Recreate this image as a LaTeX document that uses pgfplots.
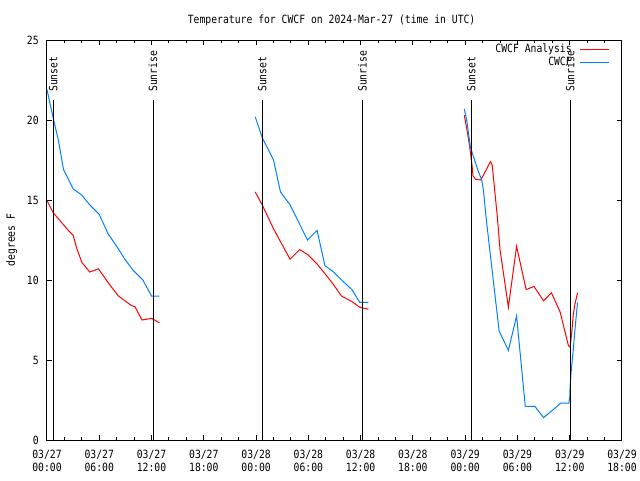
\documentclass[border=0pt]{standalone}
\usepackage{fontspec}
\setmainfont[FakeStretch=0.86]{DejaVu Sans Mono}
\usepackage{pgfplots}
\pgfplotsset{compat=1.18}
\definecolor{cred}{RGB}{255,0,0}
\definecolor{cblue}{RGB}{0,128,255}
\begin{document}
\fontsize{8.5}{9.75}\selectfont
\begin{tikzpicture}
\path[use as bounding box] (-35.25pt,-30pt) rectangle (444.75pt,330pt);
\begin{axis}[
  at={(0,0)}, anchor=south west,
  scale only axis, width=431.25pt, height=300pt,
  xmin=0, xmax=66, ymin=0, ymax=25,
  axis line style={line width=0.75pt},
  every tick/.style={black, line width=0.75pt},
  major tick length=3.75pt, minor tick length=2.25pt,
  tick align=inside,
  xtick={0,6,...,66}, minor x tick num=2,
  xticklabels={{03/27\\00:00},{03/27\\06:00},{03/27\\12:00},{03/27\\18:00},{03/28\\00:00},{03/28\\06:00},{03/28\\12:00},{03/28\\18:00},{03/29\\00:00},{03/29\\06:00},{03/29\\12:00},{03/29\\18:00}},
  xticklabel style={align=center, inner sep=0pt, yshift=-7.5pt, font=\fontsize{8.5}{9.75}\selectfont},
  ytick={0,5,...,25},
  yticklabel style={inner sep=0pt, xshift=-6pt},
  /pgf/number format/assume math mode=true,
  ylabel={degrees F},
  ylabel style={at={(axis description cs:-0.0614,0.5)}, anchor=center},
  title={Temperature for CWCF on 2024-Mar-27 (time in UTC)},
  every axis title/.style={at={(axis description cs:0.495,1.05)}, anchor=center},
  legend style={draw=none, fill=none, at={(1,1)}, anchor=north east, xshift=-9pt, yshift=-1.9pt,
    inner sep=0pt, row sep=0pt,
    nodes={inner sep=1pt, text height=6pt, text depth=1.75pt},
    /tikz/every odd column/.append style={column sep=5pt}},
  legend cell align=right,
  legend plot pos=right,
  legend image code/.code={\draw[#1] (0pt,0pt) -- (21.75pt,0pt);},
]
\addplot[cred, line width=0.75pt] coordinates {
(0,14.96) (0.72,14.2) (2.45,13.1) (3,12.8) (3.4,12.0) (4,11.1) (4.9,10.5) (5.9,10.7) (7.2,9.7) (8.2,9.0) (9.7,8.4) (10.1,8.33) (10.9,7.5) (12,7.6) (12.9,7.33)
};
\addlegendentry{CWCF Analysis}
\addplot[cblue, line width=0.75pt] coordinates {
(0,21.9) (0.72,20.1) (1.3,18.75) (1.9,16.9) (3.0,15.7) (4.0,15.3) (4.9,14.7) (6.0,14.1) (7.0,12.9) (8.0,12.1) (9.0,11.25) (9.9,10.6) (11.0,10.0) (12.0,9.0) (12.9,9.0)
};
\addlegendentry{CWCF}
\addplot[cred, line width=0.75pt, forget plot] coordinates {
(23.9,15.5) (24.7,14.7) (26,13.2) (26.9,12.3) (27.9,11.3) (29.0,11.9) (29.9,11.6) (31,11.0) (31.9,10.4) (32.9,9.7) (33.8,9.0) (35,8.65) (35.9,8.3) (36.9,8.17)
};
\addplot[cblue, line width=0.75pt, forget plot] coordinates {
(23.9,20.2) (24.7,18.9) (26.0,17.5) (26.8,15.5) (27.9,14.7) (28.9,13.6) (29.9,12.5) (31.0,13.1) (31.9,10.9) (32.9,10.5) (33.8,10.0) (35.0,9.4) (35.9,8.6) (36.9,8.6)
};
\addplot[cred, line width=0.75pt, forget plot] coordinates {
(47.9,20.3) (48.2,19.4) (48.5,18.4) (48.8,17.1) (48.9,16.5) (49.2,16.3) (49.8,16.25) (50.9,17.4) (51.1,17.2) (51.7,13.9) (52.0,11.9) (52.96,8.3) (53.9,12.1) (55.0,9.4) (55.9,9.6) (57.0,8.7) (57.9,9.2) (58.9,8.0) (59.85,5.9) (60.05,5.8) (60.25,6.8) (60.4,7.8) (60.6,8.5) (60.9,9.2)
};
\addplot[cblue, line width=0.75pt, forget plot] coordinates {
(47.9,20.7) (48.2,19.9) (48.6,18.3) (48.9,17.8) (49.5,16.8) (49.9,16.25) (50.1,15.6) (50.4,13.9) (51.9,6.8) (52.96,5.6) (53.9,7.75) (54.9,2.1) (56.0,2.1) (57.0,1.4) (57.9,1.8) (58.95,2.3) (59.9,2.3) (60.0,2.7) (60.05,3.4) (60.2,4.5) (60.4,5.6) (60.6,6.9) (60.9,8.6)
};
% sunset / sunrise lines
\addplot[black, line width=0.75pt, forget plot] coordinates {(0.72,0) (0.72,21.25)};
\addplot[black, line width=0.75pt, forget plot] coordinates {(12.17,0) (12.17,21.25)};
\addplot[black, line width=0.75pt, forget plot] coordinates {(24.72,0) (24.72,21.25)};
\addplot[black, line width=0.75pt, forget plot] coordinates {(36.2,0) (36.2,21.25)};
\addplot[black, line width=0.75pt, forget plot] coordinates {(48.7,0) (48.7,21.25)};
\addplot[black, line width=0.75pt, forget plot] coordinates {(60.05,0) (60.05,21.25)};
\node[rotate=90, anchor=west, inner sep=0pt] at (axis cs:0.72,21.75) {Sunset};
\node[rotate=90, anchor=west, inner sep=0pt] at (axis cs:12.17,21.75) {Sunrise};
\node[rotate=90, anchor=west, inner sep=0pt] at (axis cs:24.72,21.75) {Sunset};
\node[rotate=90, anchor=west, inner sep=0pt] at (axis cs:36.2,21.75) {Sunrise};
\node[rotate=90, anchor=west, inner sep=0pt] at (axis cs:48.7,21.75) {Sunset};
\node[rotate=90, anchor=west, inner sep=0pt] at (axis cs:60.05,21.75) {Sunrise};
\end{axis}
\end{tikzpicture}
\end{document}
